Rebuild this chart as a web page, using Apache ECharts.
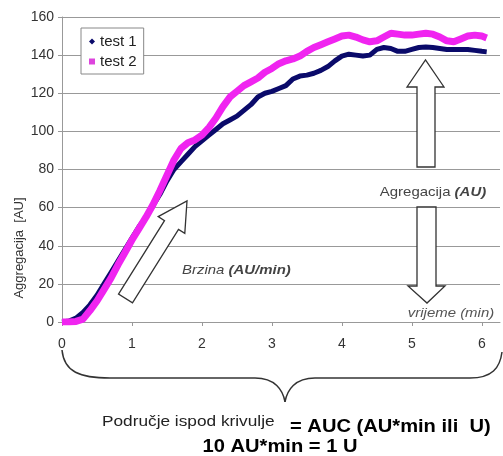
<!DOCTYPE html>
<html>
<head>
<meta charset="utf-8">
<script src="https://cdn.jsdelivr.net/npm/echarts@6/dist/echarts.min.js"></script>
<style>html,body{margin:0;padding:0;background:#fff}#c{width:503px;height:456px}</style>
</head>
<body>
<div id="c"></div>
<script>
const time1 = [0,0.1,0.2,0.3,0.4,0.5,0.6,0.7,0.8,0.9,1.0,1.1,1.2,1.3,1.4,1.5,1.6,1.7,1.8,1.9,2.0,2.1,2.2,2.3,2.4,2.5,2.6,2.7,2.8,2.9,3.0,3.1,3.2,3.3,3.4,3.5,3.6,3.7,3.8,3.9,4.0,4.1,4.2,4.3,4.4,4.5,4.6,4.7,4.8,4.9,5.0,5.1,5.2,5.3,5.4,5.5,5.6,5.7,5.8,5.9,6.0,6.07];
const test1 = [0,0.5,2,5,9,14,20,26,32,38,44,50,55,61,67,74,80,84,88,92,95,98,101,104,106,108,111,114,118,120,121,122.5,124,127.5,129,129.5,130.5,132,134,137,139.5,140.5,140,139.5,140,143,144,143.5,142,142,143,144,144.3,144,143.5,143,143,143,143,142.5,142,141.7];
const test2 = [0,0,0.3,1.5,6,11,17,23,30,36.5,43,49,55,61.5,69,77,85,91,94,95.5,98,102,107,113,118,121,124,126,128,131,133,135.5,137,138,139.5,142,144,145.5,147,148.5,150,150.5,149.5,148,147,147.5,149.5,151.5,151,150.5,150.5,151,151.5,151,149.5,147.5,147,148.5,150,150.5,150,149];
const xTicks = [0,1,2,3,4,5,6];
const seriesNames = ['test 1','test 2'];

const FF = '"Liberation Sans", Arial, sans-serif';
const chart = echarts.init(document.getElementById('c'), null, {renderer:'canvas'});
const pairs = (t, v) => t.map((x, i) => [x, v[i]]);
const SX = 1.15;
const braceStyle = {fill: 'none', stroke: '#333', lineWidth: 1.5};
const bez = (x1,y1,c1x,c1y,c2x,c2y,x2,y2) => ({type:'bezierCurve', z:10, shape:{x1,y1,cpx1:c1x,cpy1:c1y,cpx2:c2x,cpy2:c2y,x2,y2}, style: braceStyle});
const seg = (x1,y1,x2,y2) => ({type:'line', z:10, shape:{x1,y1,x2,y2}, style: braceStyle});

const option = {
  animation: false,
  backgroundColor: '#fff',
  grid: {left: 62, right: 3, top: 17, bottom: 134},
  legend: {
    orient: 'vertical', left: 81, top: 28,
    padding: [6, 7, 5, 8], itemGap: 5, itemWidth: 6, itemHeight: 6, itemTextGap: 3,
    borderColor: '#888', borderWidth: 1, backgroundColor: '#fff',
    textStyle: {fontFamily: FF, fontSize: 15, color: '#222'},
    data: [{name: seriesNames[0], icon: 'diamond'}, {name: seriesNames[1], icon: 'rect'}]
  },
  xAxis: {
    type: 'value', min: 0, max: 6.26, interval: 1,
    axisLine: {show: true, lineStyle: {color: '#999'}},
    axisTick: {show: true, length: 4, inside: false, lineStyle: {color: '#999'}, customValues: xTicks},
    axisLabel: {fontFamily: FF, fontSize: 14, color: '#333', margin: 15, customValues: xTicks},
    splitLine: {show: false}
  },
  yAxis: {
    type: 'value', min: 0, max: 160, interval: 20,
    axisLine: {show: true, lineStyle: {color: '#999'}},
    axisTick: {show: true, length: 4, lineStyle: {color: '#999'}},
    axisLabel: {fontFamily: FF, fontSize: 14, color: '#333', margin: 8},
    splitLine: {show: true, lineStyle: {color: '#999', width: 1}}
  },
  series: [
    {name: seriesNames[0], type: 'line', data: pairs(time1, test1), showSymbol: false, symbol: 'diamond',
     lineStyle: {color: '#0a0a6a', width: 5}, itemStyle: {color: '#0a0a6a'}, z: 3},
    {name: seriesNames[1], type: 'line', data: pairs(time1, test2), showSymbol: false, symbol: 'rect',
     lineStyle: {color: '#f024f0', width: 7}, itemStyle: {color: '#dd44dd'}, z: 4}
  ],
  graphic: [
    {type: 'text', x: 19, y: 248, rotation: Math.PI / 2,
     style: {text: 'Aggregacija  [AU]', fontFamily: FF, fontSize: 13, fill: '#333', align: 'center', verticalAlign: 'middle'}},
    {type: 'polygon', z: 10, shape: {points: [[118.5,294.1],[164.5,220.6],[158.2,216.6],[187,201],[184.8,233.4],[178.5,229.4],[132.5,302.9]]},
     style: {fill: '#fff', stroke: '#333', lineWidth: 1.3}},
    {type: 'polygon', z: 10, shape: {points: [[417,167],[417,87],[407,87],[425.5,60],[444,87],[435,87],[435,167]]},
     style: {fill: '#fff', stroke: '#333', lineWidth: 1.3}},
    {type: 'polygon', z: 10, shape: {points: [[417,207],[436,207],[436,286],[445,286],[427,303],[408,286],[417,286]]},
     style: {fill: '#fff', stroke: '#333', lineWidth: 1.3}},
    bez(62,350, 64,372, 80,378, 110,378),
    seg(110,378, 255,378),
    bez(255,378, 275,378, 283,390, 285,402),
    bez(285,402, 287,390, 295,378, 315,378),
    seg(315,378, 470,378),
    bez(470,378, 492,378, 500,368, 502,352),
    {type: 'text', z: 11, x: 433, y: 192, scaleX: SX,
     style: {text: '{n|Agregacija }{b|(AU)}', align: 'center', verticalAlign: 'middle', fill: '#444', fontFamily: FF, fontSize: 13,
       rich: {n: {fontFamily: FF, fontSize: 13, fill: '#444'}, b: {fontFamily: FF, fontSize: 13, fontWeight: 'bold', fontStyle: 'italic', fill: '#444'}}}},
    {type: 'text', z: 11, x: 182, y: 270, scaleX: SX,
     style: {text: '{n|Brzina }{b|(AU/min)}', align: 'left', verticalAlign: 'middle', fill: '#444', fontFamily: FF, fontSize: 13,
       rich: {n: {fontFamily: FF, fontSize: 13, fontStyle: 'italic', fill: '#444'}, b: {fontFamily: FF, fontSize: 13, fontWeight: 'bold', fontStyle: 'italic', fill: '#444'}}}},
    {type: 'text', z: 11, x: 451, y: 313, scaleX: SX,
     style: {text: 'vrijeme (min)', align: 'center', verticalAlign: 'middle', fill: '#555', fontFamily: FF, fontSize: 13, fontStyle: 'italic'}},
    {type: 'text', z: 11, x: 102, y: 422, scaleX: SX,
     style: {text: 'Područje ispod krivulje', align: 'left', verticalAlign: 'middle', fill: '#222', fontFamily: FF, fontSize: 15}},
    {type: 'text', z: 11, x: 290, y: 427, scaleX: SX,
     style: {text: '= AUC (AU*min ili  U)', align: 'left', verticalAlign: 'middle', fill: '#000', fontFamily: FF, fontSize: 17.5, fontWeight: 'bold'}},
    {type: 'text', z: 11, x: 280, y: 447, scaleX: SX,
     style: {text: '10 AU*min = 1 U', align: 'center', verticalAlign: 'middle', fill: '#000', fontFamily: FF, fontSize: 17.5, fontWeight: 'bold'}}
  ]
};
chart.setOption(option);
</script>
</body>
</html>
